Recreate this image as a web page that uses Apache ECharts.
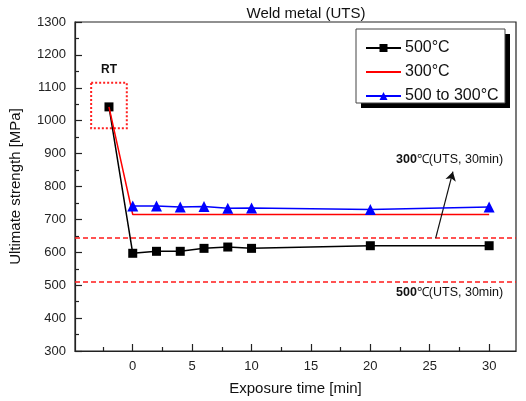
<!DOCTYPE html>
<html>
<head>
<meta charset="utf-8">
<script src="https://cdn.jsdelivr.net/npm/echarts@6/dist/echarts.min.js"></script>
<style>
  html, body { margin: 0; padding: 0; background: #fff; }
  #chart { width: 526px; height: 401px; }
</style>
</head>
<body>
<div id="chart"></div>
<script>
// Exposure time [min]; -2 marks the room-temperature (RT) reference point
const times500 = [-2, 0, 2, 4, 6, 8, 10, 20, 30];
const uts500 = [1042, 597, 603, 603, 612, 616, 612, 620, 620];

const times300 = [-2, 0, 30];
const uts300 = [1042, 715, 715];

const times500to300 = [0, 2, 4, 6, 8, 10, 20, 30];
const uts500to300 = [741, 741, 738, 739, 734, 735, 730, 738];

// Reference UTS levels after 30 min at constant temperature
const ref300 = 643;
const ref500 = 510;

const xMajorTicks = [0, 5, 10, 15, 20, 25, 30];
const xMinorTicks = [-2.5, 2.5, 7.5, 12.5, 17.5, 22.5, 27.5];

const FONT = 'Liberation Sans, Arial, sans-serif';

function pairs(xs, ys) { return xs.map((x, i) => [x, ys[i]]); }

const chart = echarts.init(document.getElementById('chart'), null, { renderer: 'canvas' });

const noteRich = {
  b: { fontFamily: FONT, fontSize: 12.5, fontWeight: 'bold', fill: '#111' },
  n: { fontFamily: FONT, fontSize: 12.5, fill: '#111' }
};

// Legend frame with a solid drop shadow
const legendBox = { x: 356, y: 29, w: 149, h: 74 };

chart.setOption({
  animation: false,
  backgroundColor: '#fff',
  title: {
    text: 'Weld metal (UTS)',
    left: 301, top: 1, textAlign: 'center',
    textStyle: { fontFamily: FONT, fontSize: 15, fontWeight: 'normal', color: '#111' }
  },
  grid: {
    left: 73, right: 10, top: 22, bottom: 50,
    show: true, borderColor: '#222', borderWidth: 1.2, backgroundColor: 'transparent'
  },
  legend: {
    orient: 'vertical',
    left: legendBox.x, top: legendBox.y,
    padding: [11, 6, 5, 9],
    itemGap: 8,
    itemWidth: 35, itemHeight: 10,
    z: 6,
    textStyle: { fontFamily: FONT, fontSize: 16, color: '#111', padding: [0, 0, 0, -1] },
    data: [
      { name: '500°C' },
      { name: '300°C', itemStyle: { color: 'rgba(0,0,0,0)', borderWidth: 0 } },
      { name: '500 to 300°C' }
    ]
  },
  xAxis: [{
    type: 'value',
    min: -4.86, max: 32.26,
    position: 'bottom',
    name: 'Exposure time [min]',
    nameLocation: 'middle', nameGap: 30,
    nameTextStyle: { fontFamily: FONT, fontSize: 15, color: '#111' },
    axisLine: { show: true, lineStyle: { color: '#222', width: 1.2 } },
    axisTick: { show: true, inside: true, length: 7, customValues: xMajorTicks, lineStyle: { color: '#222', width: 1.2 } },
    axisLabel: { customValues: xMajorTicks, fontFamily: FONT, fontSize: 13, color: '#222', margin: 9 },
    splitLine: { show: false }
  }, {
    type: 'value',
    min: -4.86, max: 32.26,
    position: 'bottom', offset: 0,
    axisLine: { show: false },
    axisTick: { show: true, inside: true, length: 4, customValues: xMinorTicks, lineStyle: { color: '#222', width: 1.2 } },
    axisLabel: { show: false },
    splitLine: { show: false }
  }],
  yAxis: {
    type: 'value',
    min: 300, max: 1300, interval: 100,
    name: 'Ultimate strength [MPa]',
    nameLocation: 'middle', nameGap: 52,
    nameTextStyle: { fontFamily: FONT, fontSize: 15, color: '#111' },
    axisLine: { show: true, onZero: false, lineStyle: { color: '#222', width: 1.2 } },
    axisTick: { show: true, inside: true, length: 7, lineStyle: { color: '#222', width: 1.2 } },
    minorTick: { show: true, splitNumber: 2, length: 4, lineStyle: { color: '#222', width: 1.2 } },
    axisLabel: { fontFamily: FONT, fontSize: 13, color: '#222', margin: 9, formatter: v => String(v) },
    splitLine: { show: false }
  },
  series: [{
    name: '500°C',
    type: 'line',
    data: pairs(times500, uts500),
    symbol: 'rect', symbolSize: 9,
    lineStyle: { color: '#000', width: 1.5 },
    itemStyle: { color: '#000' },
    z: 3,
    markLine: {
      silent: true,
      symbol: 'none',
      label: { show: false },
      lineStyle: { color: '#ff1a1a', type: [5, 3], width: 1.5 },
      data: [{ yAxis: ref300 }, { yAxis: ref500 }]
    }
  }, {
    name: '300°C',
    type: 'line',
    data: pairs(times300, uts300),
    symbol: 'none',
    lineStyle: { color: '#ff0000', width: 1.5 },
    itemStyle: { color: '#ff0000' },
    z: 4,
    markArea: {
      silent: true,
      itemStyle: { color: 'rgba(0,0,0,0)', borderColor: '#ff2020', borderWidth: 2, borderType: [2, 2] },
      label: {
        show: true, position: 'top', distance: 6,
        fontFamily: FONT, fontSize: 12, fontWeight: 'bold', color: '#111'
      },
      data: [[{ name: 'RT', coord: [-3.5, 1115] }, { coord: [-0.5, 977] }]]
    },
    markLine: {
      silent: true,
      symbol: ['none', 'arrow'], symbolSize: [8, 9],
      label: { show: false },
      lineStyle: { color: '#111', type: 'solid', width: 1.2 },
      data: [[{ coord: [25.5, ref300] }, { coord: [26.95, 845] }]]
    }
  }, {
    name: '500 to 300°C',
    type: 'line',
    data: pairs(times500to300, uts500to300),
    symbol: 'triangle', symbolSize: 11,
    lineStyle: { color: '#0000ff', width: 1.5 },
    itemStyle: { color: '#0000ff' },
    z: 5
  }],
  graphic: [{
    type: 'rect', z: 5,
    shape: { x: legendBox.x + 5, y: legendBox.y + 5, width: legendBox.w, height: legendBox.h },
    style: { fill: '#000' }
  }, {
    type: 'rect', z: 5,
    shape: { x: legendBox.x, y: legendBox.y, width: legendBox.w, height: legendBox.h },
    style: { fill: '#fff', stroke: '#444', lineWidth: 1 }
  }, {
    type: 'text', left: 396, top: 153,
    style: { text: '{b|300}{n|℃(UTS, 30min)}', rich: noteRich }
  }, {
    type: 'text', left: 396, top: 286,
    style: { text: '{b|500}{n|℃(UTS, 30min)}', rich: noteRich }
  }]
});
</script>
</body>
</html>
